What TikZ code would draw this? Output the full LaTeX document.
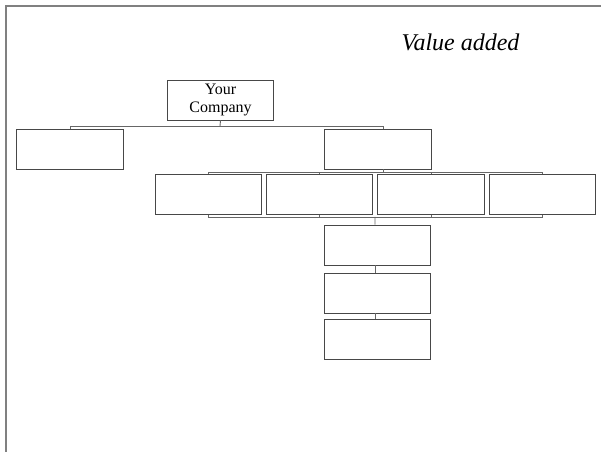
\documentclass[tikz,border=0pt]{standalone}
\usepackage{fontspec}
\setmainfont{Liberation Serif}
\begin{document}
\begin{tikzpicture}[x=0.75pt,y=-0.75pt,
  box/.style={draw=black!72, line width=0.65pt, fill=white, inner sep=0pt,
    minimum width=80pt, minimum height=30pt, align=center},
  conn/.style={draw=black!60, line width=0.7pt},
  frame/.style={draw=black!50, line width=1.4pt}]
\useasboundingbox (0,0) rectangle (601,452);
\draw[frame] (6,452) -- (6,6) -- (601,6);
\node[font=\itshape\fontsize{18}{21}\selectfont] (title) at (460.5,42) {Value added};
\node[box, font=\fontsize{12}{13.5}\selectfont] (yc) at (220.5,100) {Your\\Company};
\node[box] (a) at (70,149) {};
\node[box] (b) at (378,149) {};
\node[box] (c1) at (208.5,194.5) {};
\node[box] (c2) at (319.5,194.5) {};
\node[box] (c3) at (431,194.5) {};
\node[box] (c4) at (542.5,194.5) {};
\node[box] (d1) at (377.5,245) {};
\node[box] (d2) at (377.5,293) {};
\node[box] (d3) at (377.5,339) {};
% level 1
\coordinate (h1) at (220,126);
\draw[conn] (yc.south) -- (h1);
\draw[conn] (a.north) -- (a.north |- h1) -- ([xshift=3.75pt]b.north |- h1) -- ([xshift=3.75pt]b.north);
% level 2 top bus
\coordinate (h2) at (383,172);
\draw[conn] ([xshift=3.75pt]b.south) -- (h2);
\draw[conn] (c1.north) -- (c1.north |- h2) -- (c4.north |- h2) -- (c4.north);
\draw[conn] (c2.north) -- (c2.north |- h2);
\draw[conn] (c3.north) -- (c3.north |- h2);
% level 2 bottom bus
\coordinate (h3) at (375,217);
\draw[conn] (c1.south) -- (c1.south |- h3) -- (c4.south |- h3) -- (c4.south);
\draw[conn] (c2.south) -- (c2.south |- h3);
\draw[conn] (c3.south) -- (c3.south |- h3);
\draw[conn] (h3) -- ([xshift=-1.9pt]d1.north);
\draw[conn] ([xshift=-1.9pt]d1.south) -- ([xshift=-1.9pt]d2.north);
\draw[conn] ([xshift=-1.9pt]d2.south) -- ([xshift=-1.9pt]d3.north);
\end{tikzpicture}
\end{document}
